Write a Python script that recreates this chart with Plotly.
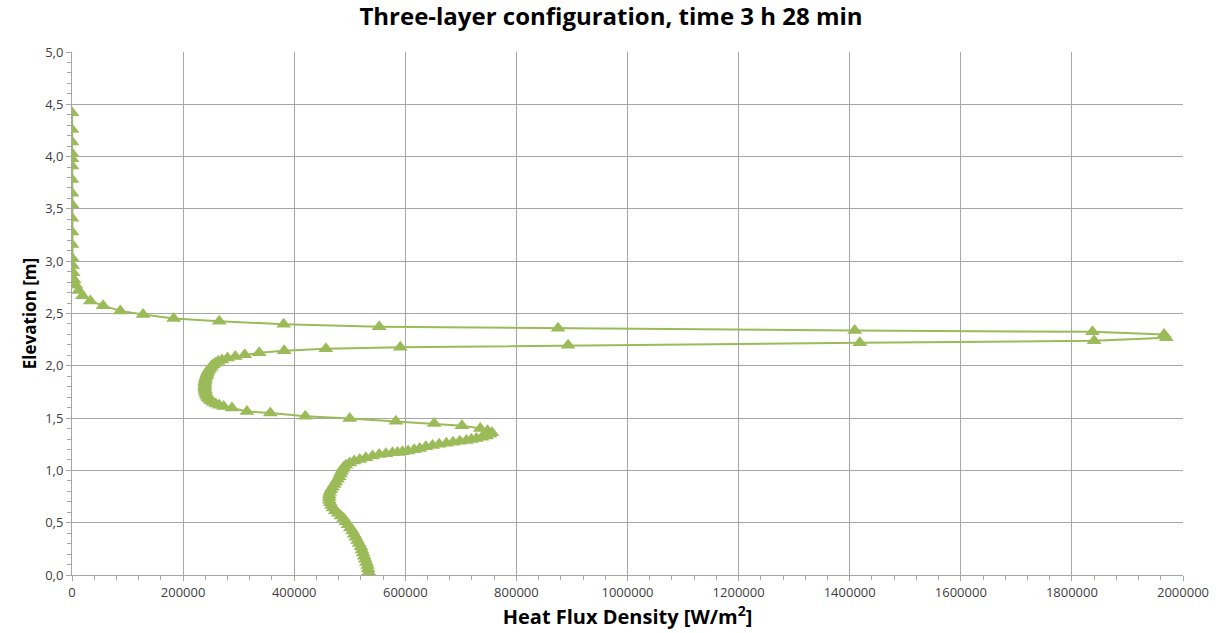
import plotly.graph_objects as go

# Heat flux density [W/m2] and elevation [m] from top to bottom
heat_flux = [
    0, 0, 0, 0, 0, 0, 0, 0, 0, 0, 0, 0, 0,
    1000, 2000, 4000, 7000, 12000, 19000, 33000, 56000, 87000, 128000, 183000,
    265000, 381000, 553000, 875000, 1409000, 1837000, 1966000,
    1970000, 1840000, 1418000, 893000, 591000, 457000, 382000, 337000, 311000,
    294000, 280000, 270000,
    263000, 258000, 254000, 251000, 249000, 247000, 245000, 244000, 243000,
    242000, 241000, 240000, 240000, 239000, 239000, 239000, 239000, 239000,
    240000, 240000, 241000, 242000, 243000, 245000, 247000, 250000, 254000,
    259000, 265000, 273000,
    288000, 315000, 357000, 420000, 500000, 583000, 652000, 702000, 735000,
    748000, 756000,
    752000, 746000, 738000, 728000, 719000, 710000, 698000, 686000, 674000,
    661000, 649000, 637000, 626000, 616000, 605000, 595000, 586000, 577000,
    565000, 553000, 541000, 529000, 518000, 508000, 500000, 493000, 489000,
    487000, 485000, 483000, 481000, 478000, 475000, 472000, 469000, 466000,
    464000, 463000, 463000, 463000, 465000, 467000, 470000, 474000, 479000,
    484000, 489000, 493000, 497000, 501000, 505000, 508000, 511000, 514000,
    517000, 520000, 522000, 524000, 526000, 528000, 530000, 532000, 533000,
    534000, 535000,
]
elevation = [
    4.42, 4.26, 4.14, 4.03, 3.98, 3.91, 3.78, 3.65, 3.54, 3.41, 3.28, 3.16, 3.03,
    2.96, 2.89, 2.82, 2.77, 2.72, 2.67, 2.62, 2.575, 2.525, 2.49, 2.452,
    2.425, 2.398, 2.374, 2.358, 2.337, 2.325, 2.30,
    2.268, 2.24, 2.22, 2.197, 2.178, 2.164, 2.145, 2.125, 2.105,
    2.09, 2.074, 2.055,
    2.04, 2.025, 2.01, 1.995, 1.98, 1.965, 1.95, 1.935, 1.92,
    1.905, 1.89, 1.875, 1.86, 1.845, 1.83, 1.815, 1.80, 1.785,
    1.77, 1.755, 1.74, 1.725, 1.71, 1.695, 1.68, 1.665, 1.65,
    1.635, 1.622, 1.61,
    1.596, 1.564, 1.548, 1.518, 1.495, 1.47, 1.448, 1.428, 1.40,
    1.38, 1.36,
    1.345, 1.33, 1.318, 1.305, 1.295, 1.287, 1.278, 1.27, 1.26,
    1.25, 1.238, 1.225, 1.21, 1.198, 1.186, 1.178, 1.172, 1.168,
    1.16, 1.152, 1.138, 1.122, 1.105, 1.09, 1.07, 1.05, 1.03,
    1.01, 0.99, 0.965, 0.94, 0.915, 0.89, 0.865, 0.84, 0.815,
    0.79, 0.765, 0.74, 0.715, 0.69, 0.665, 0.64, 0.615, 0.59,
    0.565, 0.54, 0.51, 0.48, 0.45, 0.42, 0.39, 0.36, 0.33,
    0.30, 0.27, 0.24, 0.21, 0.18, 0.15, 0.12, 0.09, 0.06,
    0.03, 0.0,
]

x_tick_vals = [0, 200000, 400000, 600000, 800000, 1000000, 1200000, 1400000, 1600000, 1800000, 2000000]
x_tick_text = ["0", "200000", "400000", "600000", "800000", "1000000", "1200000", "1400000", "1600000", "1800000", "2000000"]
y_tick_vals = [0, 0.5, 1.0, 1.5, 2.0, 2.5, 3.0, 3.5, 4.0, 4.5, 5.0]
y_tick_text = ["0,0", "0,5", "1,0", "1,5", "2,0", "2,5", "3,0", "3,5", "4,0", "4,5", "5,0"]

title_text = "Three-layer configuration, time 3 h 28 min"
x_title = "Heat Flux Density [W/m<sup>2</sup>]"
y_title = "Elevation [m]"

green = "#9BBB59"
grid = "#A6A6A6"
tickfont = dict(family="Open Sans", size=13, color="#404040")

fig = go.Figure()
fig.add_trace(go.Scatter(
    x=heat_flux, y=elevation, mode="lines+markers",
    line=dict(color=green, width=2),
    marker=dict(symbol="triangle-up", size=13, color=green),
    showlegend=False,
))

fig.update_layout(
    width=1222, height=633,
    margin=dict(l=72, r=39, t=52, b=55),
    paper_bgcolor="white", plot_bgcolor="white",
    title=dict(text="<b>" + title_text + "</b>", x=0.5, xanchor="center",
               y=0.987, yanchor="top",
               font=dict(family="Open Sans", size=24, color="#000000")),
    xaxis=dict(
        range=[0, 2000000], tickvals=x_tick_vals, ticktext=x_tick_text,
        showgrid=True, gridcolor=grid, gridwidth=1,
        showline=True, linecolor=grid, linewidth=1,
        ticks="outside", ticklen=5, tickcolor=grid,
        minor=dict(dtick=40000, ticks="outside", ticklen=4, tickcolor=grid, showgrid=False),
        tickfont=tickfont, zeroline=False,
        title=dict(text="<b>" + x_title + "</b>", standoff=6,
                   font=dict(family="Open Sans", size=20, color="#000000")),
    ),
    yaxis=dict(
        range=[0, 5], tickvals=y_tick_vals, ticktext=y_tick_text,
        showgrid=True, gridcolor=grid, gridwidth=1,
        showline=True, linecolor=grid, linewidth=1,
        ticks="outside", ticklen=5, tickcolor=grid,
        minor=dict(dtick=0.1, ticks="outside", ticklen=4, tickcolor=grid, showgrid=False),
        tickfont=tickfont, zeroline=False,
        title=dict(text="<b>" + y_title + "</b>", standoff=4,
                   font=dict(family="Open Sans", size=17, color="#000000")),
    ),
)

fig.write_html("out.html")
